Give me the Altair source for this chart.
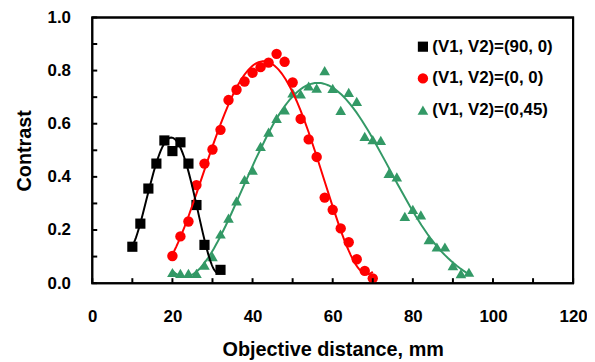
import altair as alt
import pandas as pd

# ---- data ----
labels = ["(V1, V2)=(90, 0)", "(V1, V2)=(0, 0)", "(V1, V2)=(0,45)"]
colors = ["#000000", "#ff0000", "#339966"]
shapes = ["square", "circle", "triangle-up"]

black_x = [10, 12, 14, 16, 18, 20, 22, 24, 26, 28, 32]
black_y = [0.137, 0.224, 0.356, 0.450, 0.537, 0.497, 0.530, 0.450, 0.294, 0.144, 0.050]

red_x = [20, 22, 24, 26, 28, 30, 32, 34, 36, 38, 40, 42, 44, 46, 48, 50,
         52, 54, 56, 58, 60, 62, 64, 66, 68, 70]
red_y = [0.102, 0.176, 0.232, 0.369, 0.450, 0.503, 0.577, 0.689, 0.728, 0.759,
         0.792, 0.813, 0.830, 0.863, 0.833, 0.755, 0.618, 0.541, 0.475, 0.322,
         0.276, 0.206, 0.154, 0.090, 0.046, 0.018]

green_x = [20, 22, 24, 26, 28, 30, 32, 34, 36, 38, 40, 42, 44, 46, 48, 50,
           52, 54, 56, 58, 60, 62, 64, 66, 68, 70, 72, 74, 76, 78, 80, 82,
           84, 86, 88, 90, 92, 94]
green_y = [0.040, 0.037, 0.037, 0.037, 0.068, 0.100, 0.185, 0.245, 0.310, 0.390,
           0.425, 0.515, 0.568, 0.620, 0.652, 0.716, 0.712, 0.742, 0.734, 0.800,
           0.733, 0.650, 0.718, 0.684, 0.552, 0.540, 0.537, 0.413, 0.400, 0.251,
           0.278, 0.257, 0.164, 0.136, 0.136, 0.066, 0.036, 0.041]

x_ticks = [0, 10, 20, 30, 40, 50, 60, 70, 80, 90, 100, 110, 120]
y_ticks = [0.0, 0.1, 0.2, 0.3, 0.4, 0.5, 0.6, 0.7, 0.8, 0.9, 1.0]

rows = []
for name, xs, ys in [(labels[0], black_x, black_y), (labels[1], red_x, red_y), (labels[2], green_x, green_y)]:
    for a, b in zip(xs, ys):
        rows.append({"x": a, "y": b, "series": name})
df = pd.DataFrame(rows)
xt_df = pd.DataFrame({"t": x_ticks})
yt_df = pd.DataFrame({"t": y_ticks})

FONT = "Liberation Sans"

xscale = alt.Scale(domain=[0, 120], nice=False, zero=False)
yscale = alt.Scale(domain=[0, 1], nice=False)

xaxis = alt.Axis(
    values=x_ticks, labelExpr="datum.value % 20 == 0 ? datum.label : ''",
    ticks=False, domain=False, grid=False,
    labelFont=FONT, labelFontWeight="bold", labelFontSize=17, labelColor="black",
    labelPadding=26, labelFlush=False, labelOverlap=False,
    title="Objective distance, mm", titleFont=FONT, titleFontWeight="bold",
    titleFontSize=20, titleColor="black", titleY=73, titleBaseline="alphabetic",
)
yaxis = alt.Axis(
    values=y_ticks, format=".1f",
    labelExpr="round(datum.value * 10) % 2 == 0 ? datum.label : ''",
    ticks=False, domain=False, grid=False,
    labelFont=FONT, labelFontWeight="bold", labelFontSize=17, labelColor="black",
    labelPadding=22, labelFlush=False, labelOverlap=False,
    title="Contrast", titleFont=FONT, titleFontWeight="bold", titleFontSize=20,
    titleColor="black", titleX=-68, titleY=134, titleAngle=270,
    titleBaseline="middle", titleAlign="center",
)

legend = alt.Legend(
    orient="none", legendX=325, legendY=21, padding=0,
    labelFont=FONT, labelFontWeight="bold", labelFontSize=17, labelColor="black",
    labelOffset=1, symbolSize=70, symbolStrokeWidth=0, rowPadding=14,
)

points = alt.Chart(df).mark_point(filled=True, opacity=1, strokeWidth=0).encode(
    x=alt.X("x:Q", scale=xscale, axis=xaxis),
    y=alt.Y("y:Q", scale=yscale, axis=yaxis),
    color=alt.Color("series:N", scale=alt.Scale(domain=labels, range=colors), legend=legend, title=None),
    shape=alt.Shape("series:N", scale=alt.Scale(domain=labels, range=shapes), legend=legend, title=None),
    size=alt.Size("series:N", scale=alt.Scale(domain=labels, range=[105, 115, 165]), legend=None),
)


def fit(name, color, order):
    return (
        alt.Chart(df)
        .transform_filter(alt.datum.series == name)
        .transform_regression("x", "y", method="poly", order=order)
        .mark_line(color=color, strokeWidth=2)
        .encode(x=alt.X("x:Q", scale=xscale), y=alt.Y("y:Q", scale=yscale))
    )


# inward tick marks along the bottom and left edges
xticks = alt.Chart(xt_df).mark_rule(color="black", strokeWidth=2).encode(
    x=alt.X("t:Q", scale=xscale), y=alt.value(268), y2=alt.value(263)
)
yticks = alt.Chart(yt_df).mark_rule(color="black", strokeWidth=2).encode(
    y=alt.Y("t:Q", scale=yscale), x=alt.value(0), x2=alt.value(5)
)
# plot-area frame
frame = alt.Chart(pd.DataFrame({"a": [0]})).mark_rect(
    fill=None, stroke="black", strokeWidth=2
).encode(x=alt.value(0), x2=alt.value("width"), y=alt.value(0), y2=alt.value("height"))

chart = alt.layer(
    points,
    fit(labels[2], colors[2], 6),
    fit(labels[1], colors[1], 5),
    fit(labels[0], colors[0], 4),
    xticks,
    yticks,
    frame,
).properties(
    width=485, height=268,
    autosize=alt.AutoSizeParams(type="none"),
    padding={"left": 85, "top": 8, "right": 14, "bottom": 76},
).configure(
    background="white",
    view=alt.ViewConfig(stroke="black", strokeWidth=2),
)

chart.save("out.html", embed_options={"renderer": "svg", "actions": False})
